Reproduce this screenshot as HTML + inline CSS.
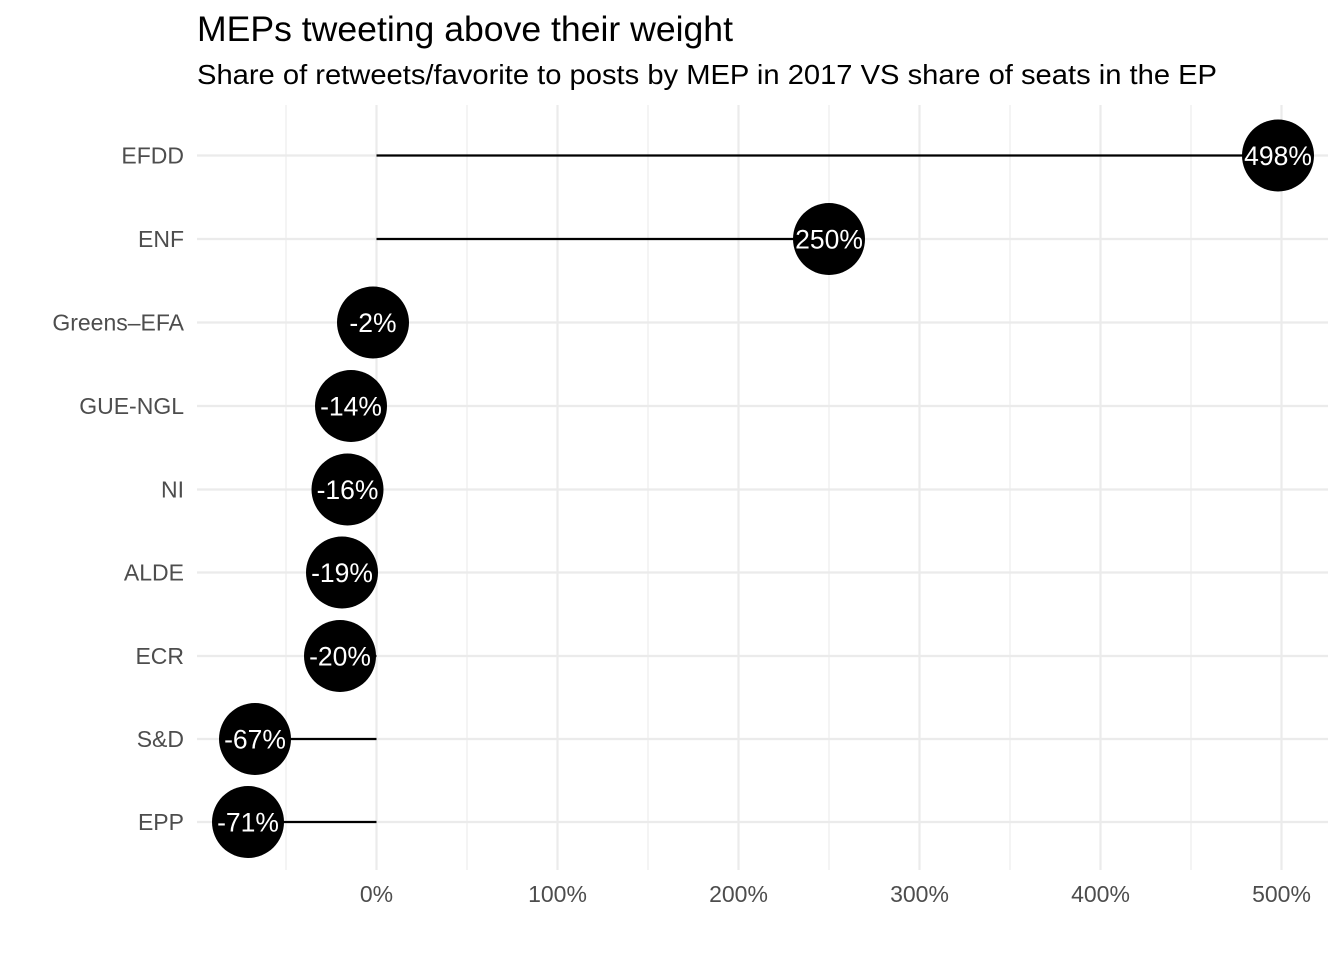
<!DOCTYPE html>
<html><head><meta charset="utf-8"><style>body{margin:0;background:#fff}svg{display:block}</style></head><body>
<svg width="1344" height="960" xmlns="http://www.w3.org/2000/svg" font-family="Liberation Sans, sans-serif">
<rect width="1344" height="960" fill="#fff"/>
<g stroke="#ebebeb" stroke-width="1.1">
<line x1="286" y1="105" x2="286" y2="870"/><line x1="467" y1="105" x2="467" y2="870"/><line x1="648" y1="105" x2="648" y2="870"/><line x1="829" y1="105" x2="829" y2="870"/><line x1="1010" y1="105" x2="1010" y2="870"/><line x1="1191" y1="105" x2="1191" y2="870"/>
</g>
<g stroke="#ebebeb" stroke-width="2.2">
<line x1="376.5" y1="105" x2="376.5" y2="870"/><line x1="557.5" y1="105" x2="557.5" y2="870"/><line x1="738.5" y1="105" x2="738.5" y2="870"/><line x1="919.5" y1="105" x2="919.5" y2="870"/><line x1="1100.5" y1="105" x2="1100.5" y2="870"/><line x1="1281.5" y1="105" x2="1281.5" y2="870"/>
<line x1="197" y1="155.5" x2="1328" y2="155.5"/><line x1="197" y1="239" x2="1328" y2="239"/><line x1="197" y1="322.5" x2="1328" y2="322.5"/><line x1="197" y1="406" x2="1328" y2="406"/><line x1="197" y1="489.5" x2="1328" y2="489.5"/><line x1="197" y1="572.5" x2="1328" y2="572.5"/><line x1="197" y1="656" x2="1328" y2="656"/><line x1="197" y1="739" x2="1328" y2="739"/><line x1="197" y1="822" x2="1328" y2="822"/>
</g>
<g stroke="#000" stroke-width="2.2">
<line x1="376.5" y1="155.5" x2="1278" y2="155.5"/><line x1="376.5" y1="239" x2="829" y2="239"/><line x1="376.5" y1="322.5" x2="373" y2="322.5"/><line x1="376.5" y1="406" x2="351" y2="406"/><line x1="376.5" y1="489.5" x2="347.5" y2="489.5"/><line x1="376.5" y1="572.5" x2="342" y2="572.5"/><line x1="376.5" y1="656" x2="340" y2="656"/><line x1="376.5" y1="739" x2="255" y2="739"/><line x1="376.5" y1="822" x2="248" y2="822"/>
</g>
<g fill="#000">
<circle cx="1278" cy="155.5" r="36"/><circle cx="829" cy="239" r="36"/><circle cx="373" cy="322.5" r="36"/><circle cx="351" cy="406" r="36"/><circle cx="347.5" cy="489.5" r="36"/><circle cx="342" cy="572.5" r="36"/><circle cx="340" cy="656" r="36"/><circle cx="255" cy="739" r="36"/><circle cx="248" cy="822" r="36"/>
</g>
<g fill="#fff" font-size="26.5" text-anchor="middle">
<text x="1278" y="165">498%</text><text x="829" y="248.5">250%</text><text x="373" y="332">-2%</text><text x="351" y="415.5">-14%</text><text x="347.5" y="499">-16%</text><text x="342" y="582">-19%</text><text x="340" y="665.5">-20%</text><text x="255" y="748.5">-67%</text><text x="248" y="831.5">-71%</text>
</g>
<g fill="#4d4d4d" font-size="23" text-anchor="end">
<text x="184" y="163.5">EFDD</text><text x="184" y="247">ENF</text><text x="184" y="330.5">Greens–EFA</text><text x="184" y="414">GUE-NGL</text><text x="184" y="497.5">NI</text><text x="184" y="580.5">ALDE</text><text x="184" y="664">ECR</text><text x="184" y="747">S&amp;D</text><text x="184" y="830">EPP</text>
</g>
<g fill="#4d4d4d" font-size="23" text-anchor="middle">
<text x="376.5" y="902">0%</text><text x="557.5" y="902">100%</text><text x="738.5" y="902">200%</text><text x="919.5" y="902">300%</text><text x="1100.5" y="902">400%</text><text x="1281.5" y="902">500%</text>
</g>
<text x="197" y="41" font-size="35" fill="#000" textLength="536" lengthAdjust="spacingAndGlyphs">MEPs tweeting above their weight</text>
<text x="197" y="84" font-size="28" fill="#000" textLength="1020" lengthAdjust="spacingAndGlyphs">Share of retweets/favorite to posts by MEP in 2017 VS share of seats in the EP</text>
</svg>
</body></html>
